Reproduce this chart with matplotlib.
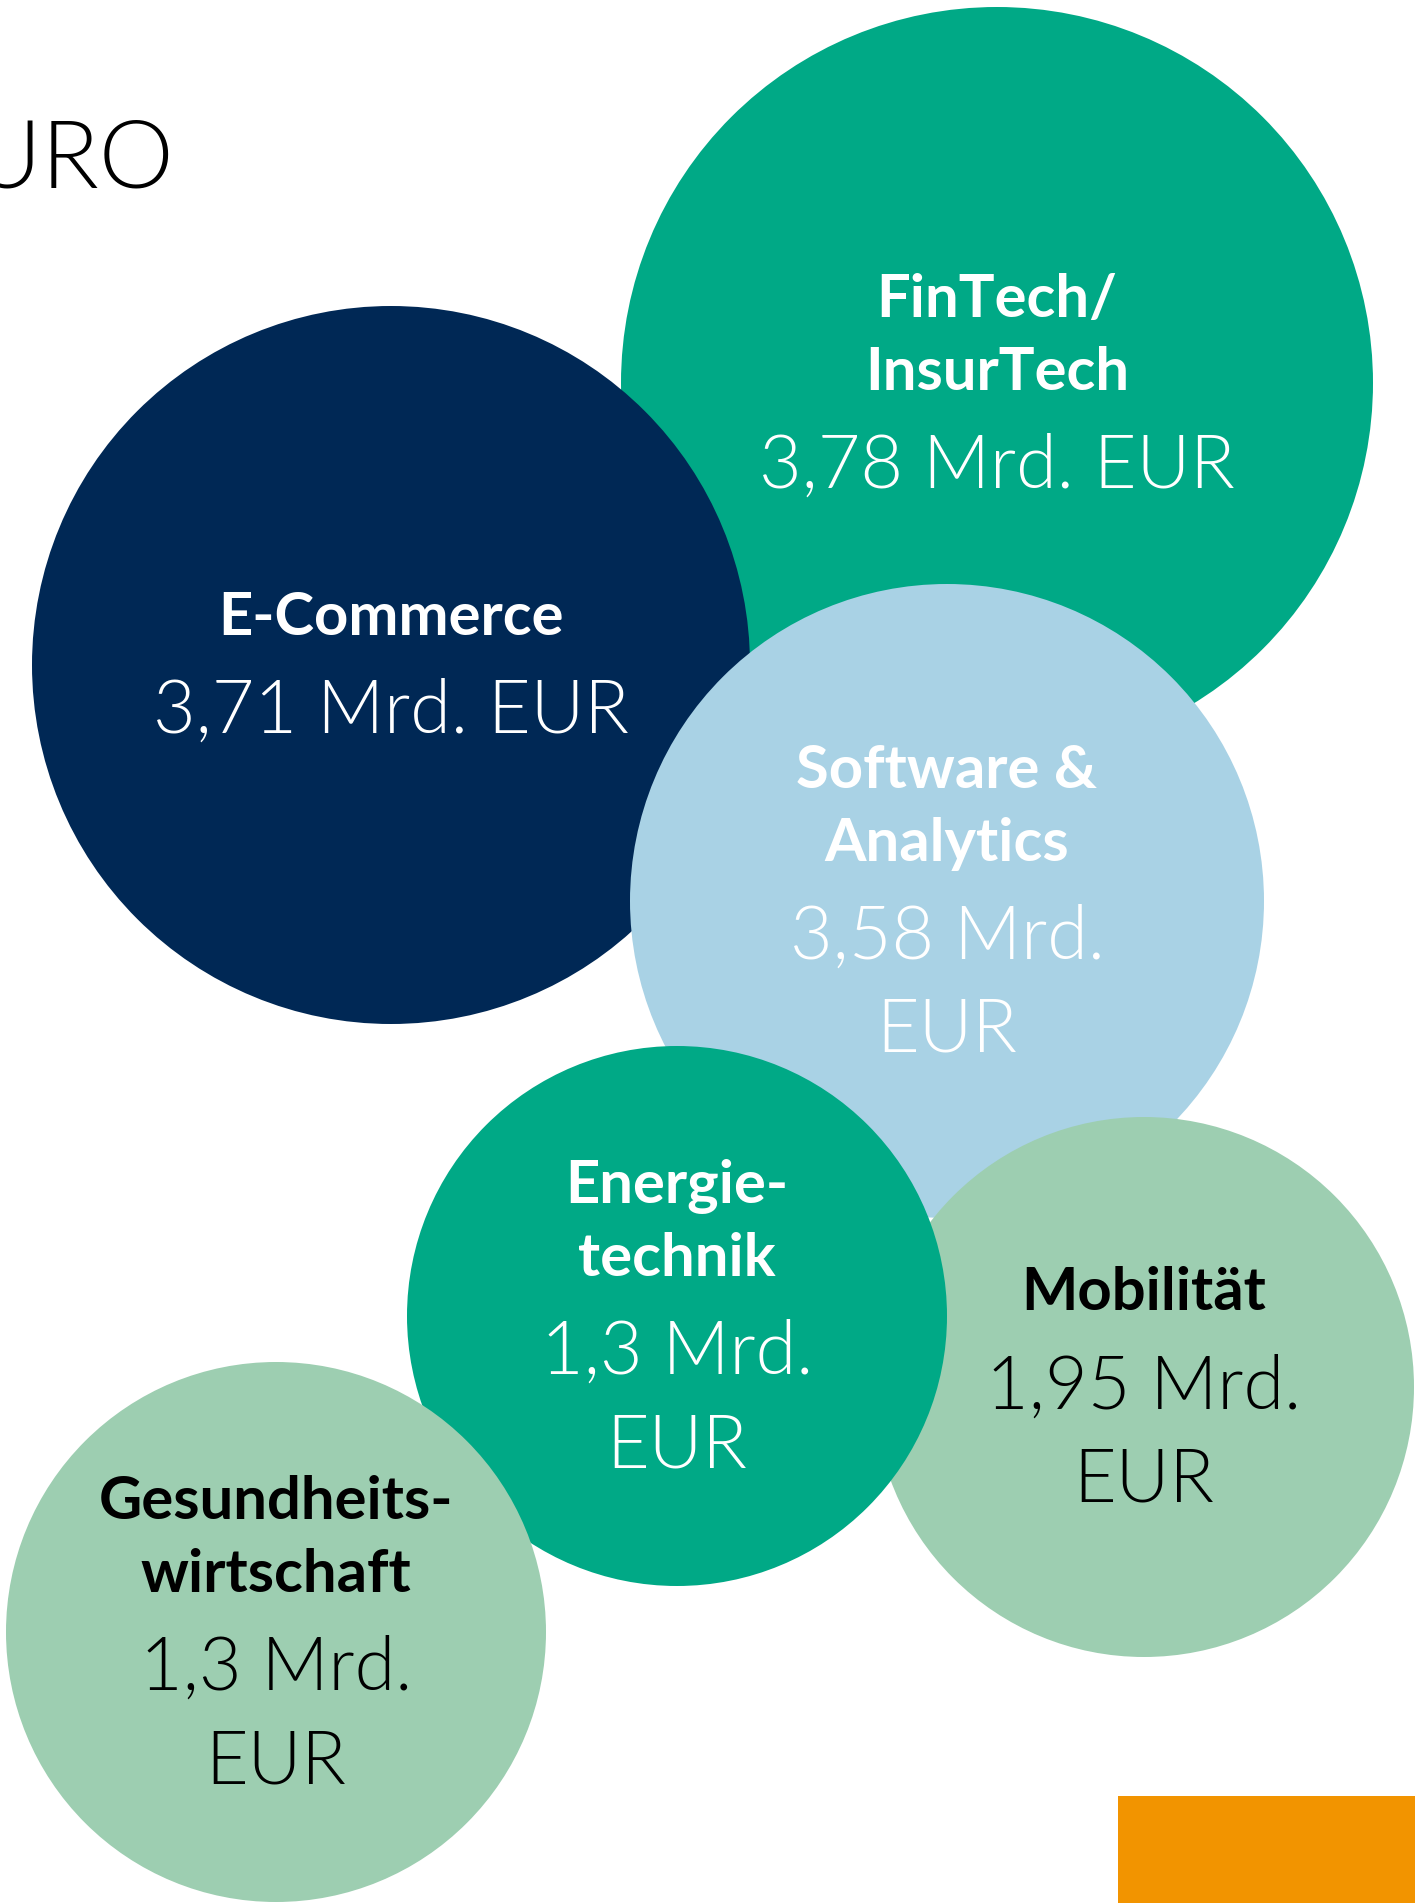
import matplotlib
matplotlib.use("Agg")
import matplotlib.pyplot as plt
from matplotlib.patches import Circle, Rectangle

# ---- data ----
categories = ["FinTech/InsurTech", "E-Commerce", "Software & Analytics",
              "Mobilität", "Energietechnik", "Gesundheitswirtschaft"]
values_bn = [3.78, 3.71, 3.58, 1.95, 1.3, 1.3]
label_lines = [["FinTech/", "InsurTech"], ["E-Commerce"], ["Software &", "Analytics"],
               ["Mobilität"], ["Energie-", "technik"], ["Gesundheits-", "wirtschaft"]]
value_lines = [["3,78 Mrd. EUR"], ["3,71 Mrd. EUR"], ["3,58 Mrd.", "EUR"],
               ["1,95 Mrd.", "EUR"], ["1,3 Mrd.", "EUR"], ["1,3 Mrd.", "EUR"]]
title_fragment = "EURO"

# ---- layout (pixel space of the 1415x1903 canvas) ----
centers = [(997, 383), (391, 665), (947, 901), (1144, 1387), (677, 1316), (276, 1632)]
radii = [376, 359, 317, 270, 270, 270]
fills = ["#00A986", "#002855", "#A9D2E5", "#9DCEB1", "#00A986", "#9DCEB1"]
text_colors = ["white", "white", "white", "black", "white", "black"]

W, H = 1415, 1903
fig = plt.figure(figsize=(W / 100, H / 100), dpi=100)
ax = fig.add_axes([0, 0, 1, 1])
ax.set_xlim(0, W)
ax.set_ylim(H, 0)
ax.axis("off")

FONT = ["Lato", "DejaVu Sans"]
LABEL_SIZE = 43
VALUE_SIZE = 53
VALUE_WEIGHT = 300
LL_GAP, LV_GAP, VV_GAP = 73, 98, 93

for i, cat in enumerate(categories):
    cx, cy = centers[i]
    ax.add_patch(Circle((cx, cy), radii[i], facecolor=fills[i], edgecolor="none",
                        zorder=2 + 2 * i))
    offs = [0]
    kinds = ["L"] * len(label_lines[i]) + ["V"] * len(value_lines[i])
    for k in range(1, len(kinds)):
        prev, cur = kinds[k - 1], kinds[k]
        gap = LL_GAP if (prev == "L" and cur == "L") else (LV_GAP if prev == "L" else VV_GAP)
        offs.append(offs[-1] + gap)
    start = cy + 19 - offs[-1] / 2
    lines = label_lines[i] + value_lines[i]
    for k, txt in enumerate(lines):
        is_label = kinds[k] == "L"
        ax.text(cx, start + offs[k], txt, ha="center", va="baseline",
                fontsize=LABEL_SIZE if is_label else VALUE_SIZE,
                fontweight="bold" if is_label else VALUE_WEIGHT,
                family=FONT, color=text_colors[i], zorder=3 + 2 * i)

# partial headline at top-left (cut by the canvas edge, as in the reference)
ax.text(174, 187, title_fragment, ha="right", va="baseline", fontsize=68,
        fontweight=VALUE_WEIGHT, family=FONT, color="black", zorder=20)

# orange block bottom-right
ax.add_patch(Rectangle((1118, 1796), W - 1118, H - 1796, facecolor="#F29400",
                       edgecolor="none", zorder=20))

fig.savefig("out.png", dpi=100)
